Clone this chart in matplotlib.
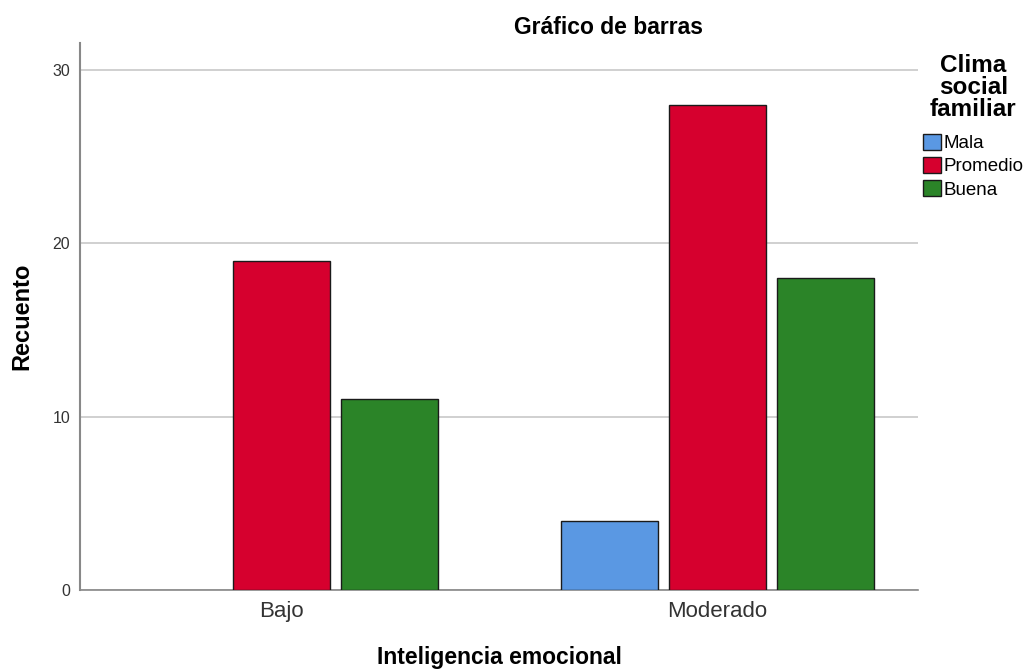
import numpy as np
import matplotlib.pyplot as plt
from matplotlib.patches import Patch

plt.rcParams['font.family'] = ['Liberation Sans', 'DejaVu Sans']

categorias = ["Bajo", "Moderado"]
series = ["Mala", "Promedio", "Buena"]
mala = [0, 4]
promedio = [19, 28]
buena = [11, 18]
colores = ["#5A98E3", "#D6002E", "#2B8428"]

fig = plt.figure(figsize=(10.27, 6.7), dpi=100)
ax = fig.add_axes([0.0779, 0.1194, 0.816, 0.8164])

x = np.arange(len(categorias))
ancho = 0.2227
paso = 0.248
for i, (nombre, vals) in enumerate(zip(series, [mala, promedio, buena])):
    barras = ax.bar(x + (i - 1) * paso, vals, width=ancho, color=colores[i],
                    edgecolor="#1a1a1a", linewidth=1.0, zorder=3)
    # las barras de valor cero no se dibujan
    for b, v in zip(barras, vals):
        if v == 0:
            b.set_visible(False)

ax.set_xlim(-0.4627, 1.4615)
ax.set_ylim(0, 31.56)
ax.set_yticks([0, 10, 20, 30])
ax.set_xticks(x)
ax.set_xticklabels(categorias, fontsize=16, color="#333333")
ax.tick_params(axis="y", labelsize=11.5, length=0, pad=7, colors="#333333")
ax.tick_params(axis="x", length=0, pad=8)
ax.grid(axis="y", color="#c8c8c8", linewidth=1.2, zorder=0)
for s in ["top", "right"]:
    ax.spines[s].set_visible(False)
ax.spines["left"].set_color("#888888")
ax.spines["bottom"].set_color("#888888")
ax.spines["left"].set_linewidth(1.5)
ax.spines["bottom"].set_linewidth(1.2)

ax.text(0.5, (590 - 657) / 547, "Inteligencia emocional", transform=ax.transAxes,
        fontsize=16.5, fontweight="bold", ha="center", va="center")
ax.text((22 - 80) / 838, 0.5, "Recuento", transform=ax.transAxes, rotation=90,
        fontsize=17, fontweight="bold", ha="center", va="center")
fig.text(608 / 1027, 1 - 27 / 670, "Gráfico de barras", fontsize=16.5,
         fontweight="bold", ha="center", va="center")

handles = [Patch(facecolor=c, edgecolor="#1a1a1a", linewidth=1.0) for c in colores]
leg = ax.legend(handles, series, title="Clima\nsocial\nfamiliar", loc="upper left",
                bbox_to_anchor=(1.006, 0.98), frameon=False, fontsize=13.5,
                handlelength=0.95, handleheight=0.95, handletextpad=0.15,
                labelspacing=0.25, borderaxespad=0, borderpad=0)
leg.get_title().set_fontweight("bold")
leg.get_title().set_fontsize(17.5)
leg.get_title().set_multialignment("center")
leg.get_title().set_linespacing(0.95)
leg._legend_box.align = "center"
leg._legend_box.sep = 9

fig.savefig("out.png", dpi=100)
